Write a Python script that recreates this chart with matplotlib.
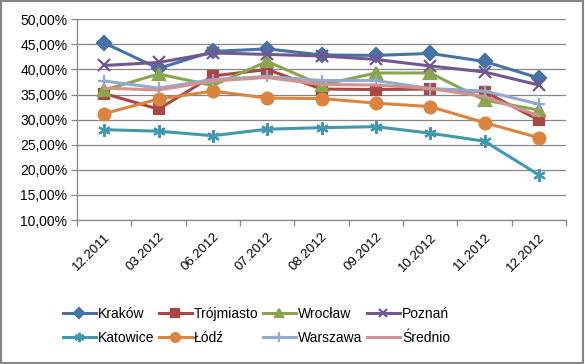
import matplotlib.pyplot as plt
from matplotlib.patches import Rectangle
from matplotlib.ticker import FuncFormatter, FixedLocator
import numpy as np

months = ["12.2011", "03.2012", "06.2012", "07.2012", "08.2012",
          "09.2012", "10.2012", "11.2012", "12.2012"]

krakow = [45.3, 40.2, 43.6, 44.1, 42.9, 42.8, 43.2, 41.6, 38.3]
trojmiasto = [35.2, 32.1, 38.7, 40.0, 36.1, 36.0, 36.1, 35.6, 29.9]
wroclaw = [35.9, 39.1, 36.8, 41.6, 36.9, 39.3, 39.3, 33.9, 31.9]
poznan = [40.8, 41.4, 43.3, 43.0, 42.7, 42.0, 40.7, 39.5, 36.9]
katowice = [28.0, 27.7, 26.8, 28.1, 28.4, 28.6, 27.3, 25.7, 19.0]
lodz = [31.2, 34.1, 35.7, 34.3, 34.2, 33.3, 32.6, 29.4, 26.4]
warszawa = [37.7, 36.3, 38.0, 38.6, 37.8, 37.8, 36.2, 35.7, 33.1]
srednio = [36.3, 35.9, 37.7, 38.4, 37.0, 36.9, 36.2, 34.6, 30.8]

series = [
    ("Kraków", krakow, "#4572A7", "D", 7),
    ("Trójmiasto", trojmiasto, "#AA4643", "s", 7.5),
    ("Wrocław", wroclaw, "#89A54E", "^", 8.5),
    ("Poznań", poznan, "#71588F", "x", 8),
    ("Katowice", katowice, "#4198AF", (6, 2, 0), 9),
    ("Łódź", lodz, "#DB843D", "o", 8.5),
    ("Warszawa", warszawa, "#93A9CF", "+", 9),
    ("Średnio", srednio, "#D19392", None, 0),
]

plt.rcParams["font.family"] = ["Liberation Sans", "DejaVu Sans"]
grey = "#868686"

fig = plt.figure(figsize=(5.85, 3.64), dpi=100)
ax = fig.add_axes([77 / 585, 1 - 220 / 364, (566 - 77) / 585, (220 - 19.3) / 364])

x = np.arange(len(months))
handles = {}
for name, vals, col, mk, ms in series:
    kw = dict(marker=mk, markersize=ms, markeredgewidth=1.6) if mk else {}
    h, = ax.plot(x, vals, color=col, lw=2.2, label=name, **kw)
    handles[name] = h

ax.set_xlim(-0.5, len(months) - 0.5)
ax.set_ylim(10, 50)
ax.set_yticks(np.arange(10, 51, 5))
ax.yaxis.set_major_formatter(FuncFormatter(lambda v, p: f"{v:.2f}%".replace(".", ",")))
ax.grid(axis="y", color=grey, lw=0.9)
ax.set_axisbelow(True)
ax.set_xticks(x)
ax.set_xticklabels(months, rotation=45, ha="right", va="top", rotation_mode="anchor")
ax.xaxis.set_minor_locator(FixedLocator(np.arange(-0.5, len(months), 1)))
ax.tick_params(axis="x", which="major", length=0, pad=8, labelsize=9.5)
ax.tick_params(axis="x", which="minor", length=4, color=grey, width=0.9)
ax.tick_params(axis="y", length=4, color=grey, width=0.9, labelsize=10, pad=3)
for s in ["top", "right"]:
    ax.spines[s].set_visible(False)
for s in ["left", "bottom"]:
    ax.spines[s].set_color(grey)
    ax.spines[s].set_linewidth(0.9)

order = ["Kraków", "Katowice", "Trójmiasto", "Łódź", "Wrocław", "Warszawa", "Poznań", "Średnio"]
leg = fig.legend([handles[n] for n in order], order, ncol=4, frameon=False,
                 loc="center left", bbox_to_anchor=(50 / 585, 1 - 326 / 364),
                 fontsize=10, handlelength=2.4, handletextpad=0.15,
                 columnspacing=0.3, labelspacing=0.75, markerscale=0.75)

fig.patches.append(Rectangle((0.002, 0.003), 0.994, 0.993, transform=fig.transFigure,
                             fill=False, edgecolor=grey, lw=1.5))

fig.savefig("out.png", dpi=100)
